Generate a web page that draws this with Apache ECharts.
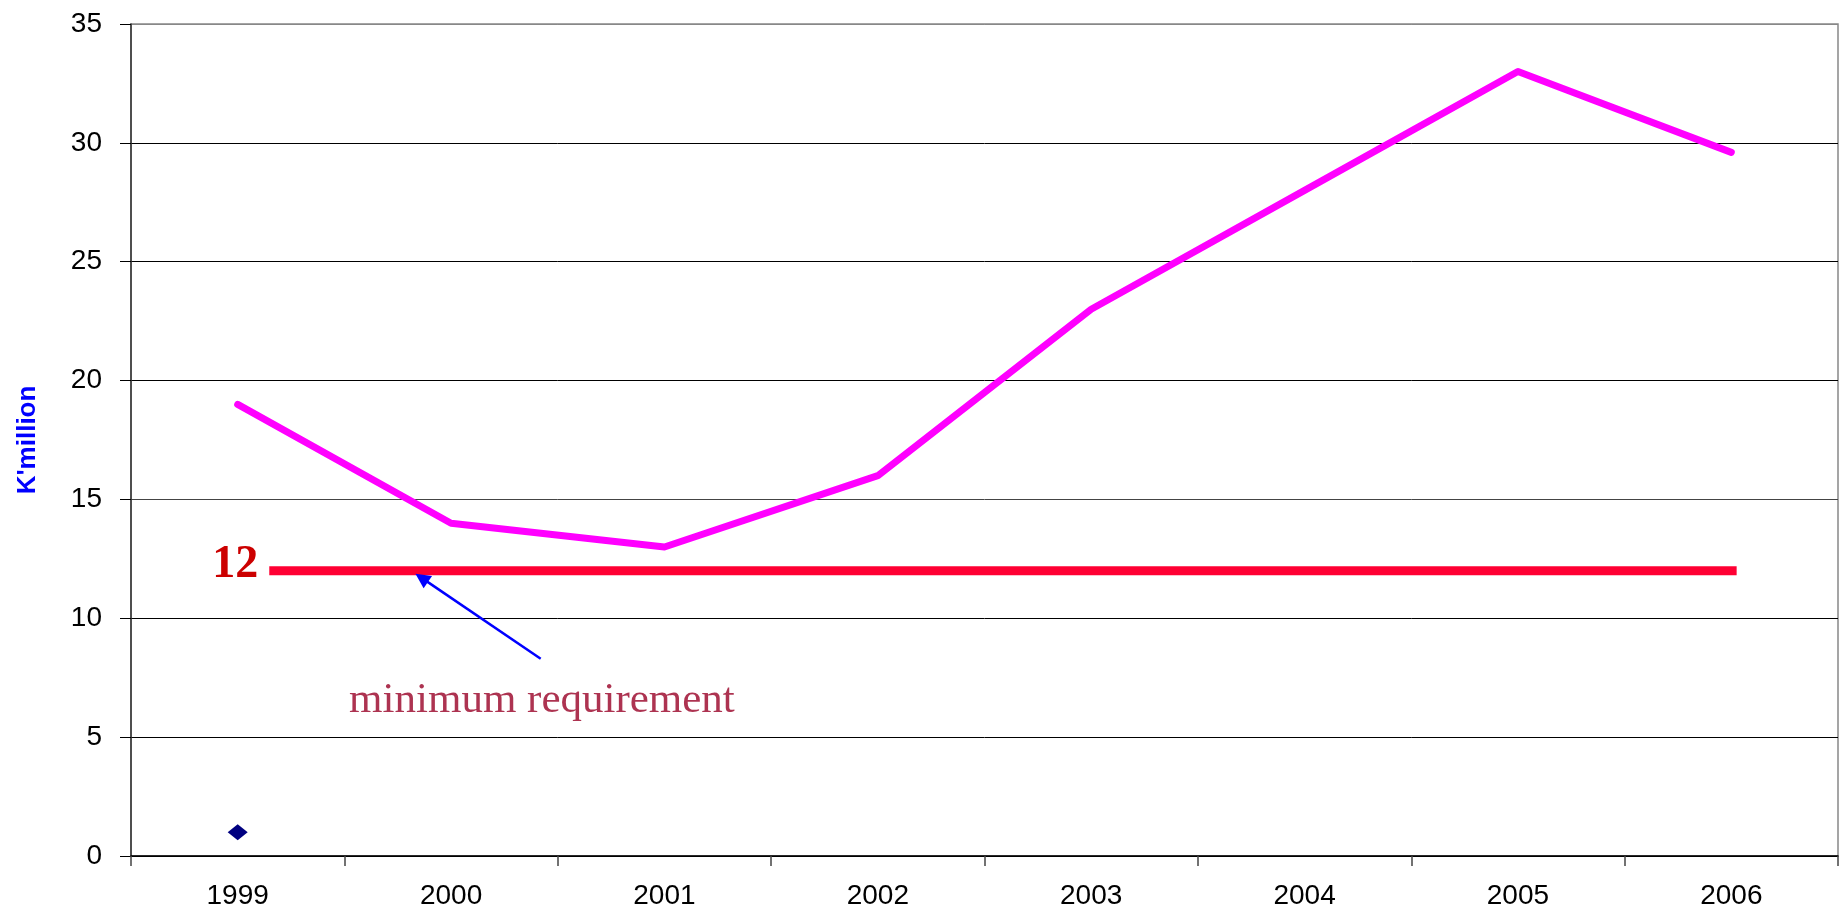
<!DOCTYPE html>
<html>
<head>
<meta charset="utf-8">
<script src="https://cdn.jsdelivr.net/npm/echarts@6/dist/echarts.min.js"></script>
<style>
  html, body { margin: 0; padding: 0; background: #fff; }
  #chart { width: 1839px; height: 911px; }
</style>
</head>
<body>
<div id="chart"></div>
<script>
// Years on the category axis
const years = ['1999', '2000', '2001', '2002', '2003', '2004', '2005', '2006'];
// Main series (K'million)
const amounts = [19, 14, 13, 16, 23, 28, 33, 29.6];
// Single marker shown at the first year
const markerYear = '1999';
const markerValue = 1;
// Minimum requirement level and its horizontal extent (in category-band units)
const minRequirement = 12;
const reqSpan = [0.648, 7.525];
// Pointer from the caption to the requirement line (band units, value)
const pointerFrom = [1.92, 8.3];
const pointerTo = [1.362, 11.7];
// Caption position (band units, value)
const captionAt = [1.926, 6.55];
const captionText = 'minimum requirement';
// Value axis ticks
const yMin = 0, yMax = 35, yStep = 5;

const sans = "'Liberation Sans', Arial, Helvetica, sans-serif";
const serif = "'Liberation Serif', 'Times New Roman', serif";

const chart = echarts.init(document.getElementById('chart'), null, { renderer: 'canvas' });

chart.setOption({
  animation: false,
  backgroundColor: '#ffffff',
  grid: {
    left: 131, right: 1, top: 24, bottom: 55,
    show: true, borderColor: '#888888', borderWidth: 1.5,
    backgroundColor: 'transparent'
  },
  xAxis: [
    {
      type: 'category',
      data: years,
      boundaryGap: true,
      axisLine: { show: true, lineStyle: { color: '#000000', width: 1.5 } },
      axisTick: { show: true, length: 10, alignWithLabel: false, lineStyle: { color: '#444444', width: 1.5 } },
      axisLabel: { fontSize: 28, color: '#000000', fontFamily: sans, margin: 26 },
      splitLine: { show: false }
    },
    {
      type: 'value',
      min: 0, max: years.length,
      show: false
    }
  ],
  yAxis: {
    type: 'value',
    min: yMin, max: yMax, interval: yStep,
    name: "K'million",
    nameLocation: 'middle',
    nameRotate: 90,
    nameGap: 90,
    nameTextStyle: { color: '#0000FF', fontSize: 26, fontWeight: 'bold', fontFamily: sans },
    axisLine: { show: true, lineStyle: { color: '#333333', width: 1.5 } },
    axisTick: { show: true, length: 11, lineStyle: { color: '#000000', width: 1 } },
    axisLabel: { fontSize: 28, color: '#000000', fontFamily: sans, margin: 29 },
    splitLine: {
      show: true,
      lineStyle: {
        color: ['#000000', '#000000', '#000000', '#444444', '#000000', '#000000', '#000000', '#888888'],
        width: 1
      }
    }
  },
  series: [
    {
      name: 'amount',
      type: 'line',
      xAxisIndex: 0,
      data: amounts,
      symbol: 'none',
      smooth: false,
      lineStyle: { color: '#FF00FF', width: 7, cap: 'round', join: 'round' },
      z: 4,
      silent: true
    },
    {
      name: 'marker',
      type: 'scatter',
      xAxisIndex: 0,
      data: [[markerYear, markerValue]],
      symbol: 'diamond',
      symbolSize: [20, 16],
      itemStyle: { color: '#000080', opacity: 1 },
      z: 5,
      silent: true
    },
    {
      name: 'requirement',
      type: 'line',
      xAxisIndex: 1,
      data: [[reqSpan[0], minRequirement], [reqSpan[1], minRequirement]],
      symbol: 'none',
      lineStyle: { color: '#FF0033', width: 9, cap: 'butt' },
      label: { show: false },
      markPoint: {
        symbol: 'circle',
        symbolSize: 0,
        silent: true,
        data: [{
          coord: [reqSpan[0], minRequirement],
          value: minRequirement,
          label: {
            show: true,
            position: 'left',
            distance: 11,
            offset: [0, -6],
            formatter: (p) => String(p.value),
            color: '#CC0000',
            fontSize: 46,
            fontWeight: 'bold',
            fontFamily: serif
          }
        }]
      },
      markLine: {
        silent: true,
        symbol: ['none', 'triangle'],
        symbolSize: 15,
        label: { show: false },
        lineStyle: { color: '#0000FF', width: 2.5, type: 'solid' },
        itemStyle: { color: '#0000FF' },
        emphasis: { disabled: true },
        data: [[
          { coord: pointerFrom },
          { coord: pointerTo }
        ]]
      },
      z: 3,
      silent: true
    },
    {
      name: 'caption',
      type: 'scatter',
      xAxisIndex: 1,
      data: [captionAt],
      symbolSize: 0,
      label: {
        show: true,
        position: 'inside',
        formatter: captionText,
        color: '#990026',
        fontSize: 43,
        fontFamily: serif
      },
      silent: true,
      z: 6
    }
  ]
});
</script>
</body>
</html>
